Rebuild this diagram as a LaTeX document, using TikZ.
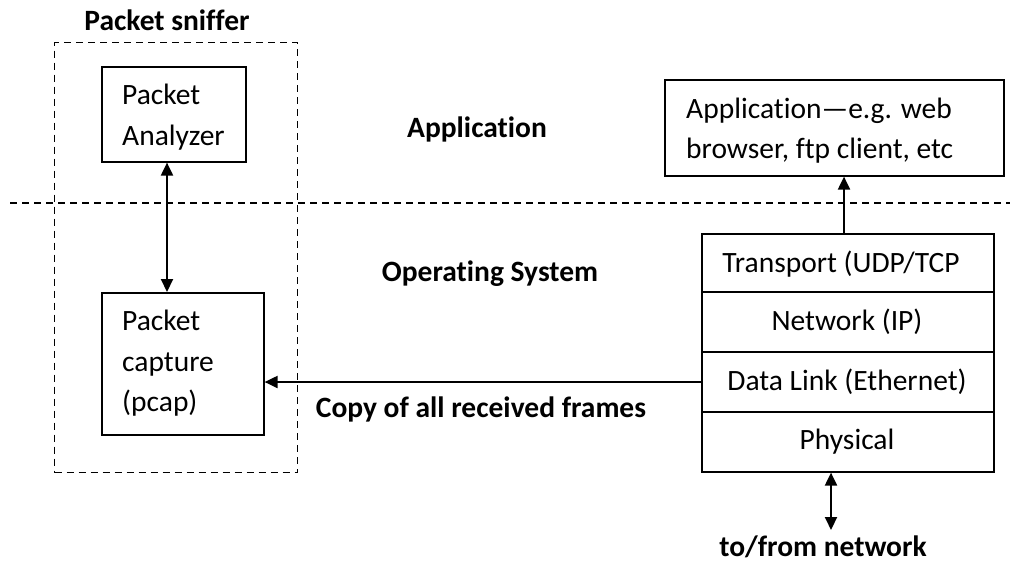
\documentclass[tikz,border=0pt]{standalone}
\usepackage{fontspec}
\setmainfont{Carlito}[Ligatures=NoCommon]
\usetikzlibrary{arrows.meta}
\begin{document}
\begin{tikzpicture}[x=1pt,y=-1pt,
  font=\fontsize{29.5}{41}\selectfont,
  box/.style={draw,line width=1.6pt,inner sep=0pt,anchor=north west},
  txt/.style={inner sep=0pt,anchor=base west},
  ctxt/.style={inner sep=0pt,anchor=base},
  ttl/.style={inner sep=0pt,anchor=base,font=\fontsize{29.5}{41}\selectfont\bfseries},
  dsh/.style={line width=1.3pt,dash pattern=on 7pt off 5pt},
  arr/.style={line width=2pt,-{Triangle[length=13pt,width=12pt]}},
  darr/.style={line width=2pt,{Triangle[length=13pt,width=12pt]}-{Triangle[length=13pt,width=12pt]}}]
\useasboundingbox (0,0) rectangle (1016,563);
% sniffer dashed box
\node[box,dsh,minimum width=243pt,minimum height=430pt] (sn) at (54,42) {};
\node[ttl] (snt) at (167,30) {Packet sniffer};
% layer separator
\coordinate (dl) at (10,203);
\coordinate (dr) at (1010,203);
\draw[dsh] (dl) -- (dr);
% left boxes
\node[box,minimum width=144pt,minimum height=95pt] (pa) at (101,66) {};
\node[txt] (pat1) at (122,104) {Packet};
\node[txt] (pat2) at (122,145) {Analyzer};
\node[box,minimum width=162pt,minimum height=142pt] (pc) at (101,292) {};
\node[txt] (pct1) at (122,330) {Packet};
\node[txt] (pct2) at (122,371) {capture};
\node[txt] (pct3) at (122,411) {(pcap)};
\draw[darr] (pa.south -| 167,0) -- (pc.north -| 167,0);
% labels
\node[ttl] (app) at (477,137) {Application};
\node[ttl] (os) at (490,281) {Operating System};
\node[ttl] (copy) at (481,417) {Copy of all received frames};
% application box
\node[box,minimum width=339pt,minimum height=96pt] (ap) at (664,79) {};
\node[txt] (apt1) at (686,118) {Application—e.g. web};
\node[txt] (apt2) at (686,158) {browser, ftp client, etc};
% stack
\node[box,minimum width=292pt,minimum height=58pt] (tr) at (701,233) {};
\node[box,minimum width=292pt,minimum height=60pt] (nw) at (701,291) {};
\node[box,minimum width=292pt,minimum height=60pt] (dlk) at (701,351) {};
\node[box,minimum width=292pt,minimum height=60pt] (ph) at (701,411) {};
\node[ctxt] (trt) at (841,272) {Transport (UDP/TCP};
\node[ctxt] (nwt) at (847,330) {Network (IP)};
\node[ctxt] (dlt) at (847,390) {Data Link (Ethernet)};
\node[ctxt] (pht) at (847,449) {Physical};
\node[ttl] (net) at (823,556) {to/from network};
% connectors
\draw[arr] (tr.north -| 844,0) -- (ap.south -| 844,0);
\draw[arr] (dlk.west |- 0,382) -- (pc.east |- 0,382);
\coordinate (netpt) at (831,530);
\draw[darr] (ph.south -| 831,0) -- (netpt);
\end{tikzpicture}
\end{document}
